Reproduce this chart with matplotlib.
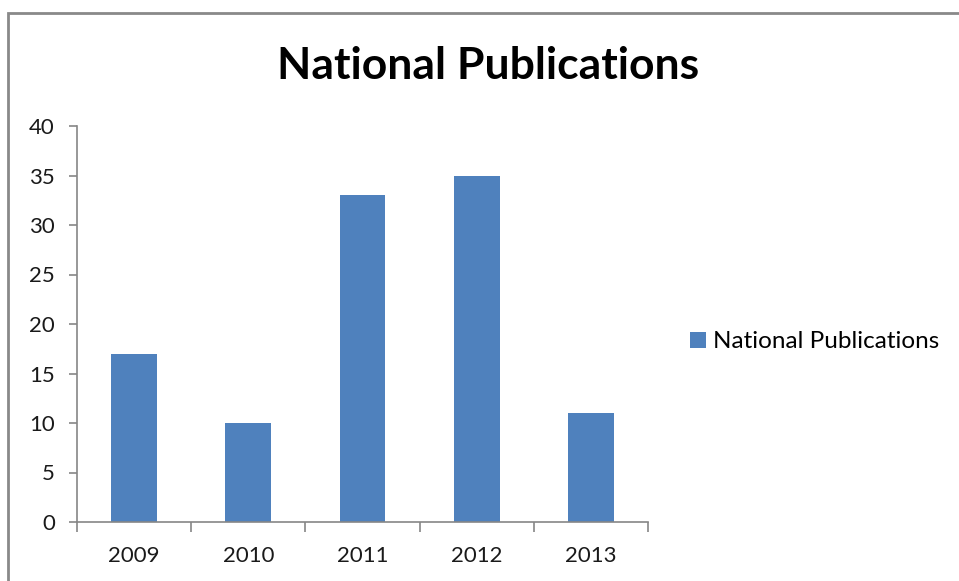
import matplotlib
matplotlib.use("Agg")
import numpy as np
from matplotlib import pyplot as plt
from matplotlib.patches import Rectangle

years = ["2009", "2010", "2011", "2012", "2013"]
publications = [17, 10, 33, 35, 11]
yticks = [0, 5, 10, 15, 20, 25, 30, 35, 40]

plt.rcParams['font.family'] = ['Lato', 'DejaVu Sans']

fig = plt.figure(figsize=(9.59, 5.81), dpi=100)
ax = fig.add_axes([77/959, 59/581, (648-77)/959, (522-126)/581])

x = np.arange(len(years))
bars = ax.bar(x, publications, width=0.4, color='#4F81BD', label='National Publications')

ax.set_xlim(-0.5, len(years) - 0.5)
ax.set_ylim(0, 40)
ax.set_yticks(yticks)
ax.set_yticklabels([str(v) for v in yticks])
ax.set_xticks(np.arange(-0.5, len(years)), minor=False)
ax.set_xticklabels([])
ax.set_xticks(x, minor=True)
ax.set_xticklabels(years, minor=True)

grey = '#868686'
for s in ['top', 'right']:
    ax.spines[s].set_visible(False)
for s in ['left', 'bottom']:
    ax.spines[s].set_color(grey)
    ax.spines[s].set_linewidth(1.2)

ax.tick_params(axis='y', which='major', length=6, width=1.2, color=grey,
               labelsize=16, pad=10, labelcolor='#1a1a1a')
ax.tick_params(axis='x', which='major', length=7, width=1.2, color=grey)
ax.tick_params(axis='x', which='minor', length=0, labelsize=16, pad=17,
               labelcolor='#1a1a1a')

fig.text(488/959, 1 - 66/581, 'National Publications', ha='center', va='center',
         fontsize=32, fontweight='bold', color='black')

ax.legend(loc='center left', bbox_to_anchor=(690/959, 1 - 342/581),
          bbox_transform=fig.transFigure, frameon=False, fontsize=17.5,
          handlelength=0.65, handleheight=0.65, handletextpad=0.3,
          borderaxespad=0, borderpad=0)

# chart area border
fig.patches.append(Rectangle((8/959, -0.1), 1.2, 1.1 - 13/581, transform=fig.transFigure,
                             fill=False, edgecolor='#898989', linewidth=2))

fig.savefig('out.png', dpi=100)
